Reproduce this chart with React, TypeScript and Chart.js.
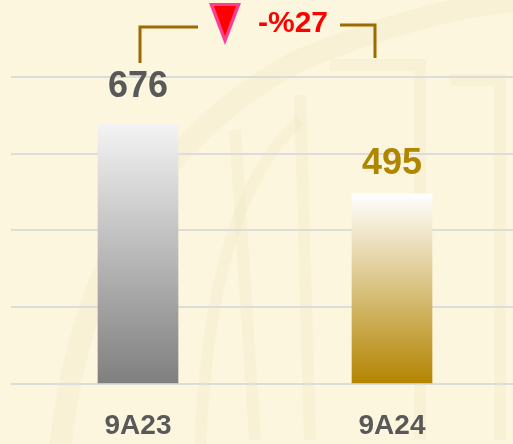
import React, { useEffect, useRef } from "react";
import { Chart, registerables } from "chart.js";

Chart.register(...registerables);

const categories = ["9A23", "9A24"];
const values = [676, 495];
const valueLabels = ["676", "495"];
const changeLabel = "-%27";
const yTicks = [0, 200, 400, 600, 800];

const FONT = "'Liberation Sans', Arial, sans-serif";

const bgPlugin = {
  id: "bg",
  beforeDraw(chart: any) {
    const { ctx, width, height } = chart;
    ctx.save();
    ctx.fillStyle = "#FCF6DF";
    ctx.fillRect(0, 0, width, height);
    // faint watermark
    ctx.strokeStyle = "rgba(205,185,120,0.08)";
    ctx.lineWidth = 22;
    ctx.beginPath();
    ctx.moveTo(60, 450);
    ctx.quadraticCurveTo(90, 170, 300, 60);
    ctx.quadraticCurveTo(420, 10, 520, 0);
    ctx.stroke();
    ctx.lineWidth = 12;
    ctx.beginPath();
    ctx.moveTo(200, 450);
    ctx.quadraticCurveTo(210, 200, 300, 120);
    ctx.stroke();
    ctx.beginPath();
    ctx.moveTo(235, 130);
    ctx.lineTo(255, 440);
    ctx.moveTo(300, 95);
    ctx.lineTo(310, 440);
    ctx.moveTo(330, 65);
    ctx.lineTo(420, 65);
    ctx.lineTo(420, 440);
    ctx.moveTo(450, 80);
    ctx.lineTo(500, 80);
    ctx.lineTo(500, 440);
    ctx.stroke();
    ctx.restore();
  },
};

const labelPlugin = {
  id: "labels",
  afterDatasetsDraw(chart: any) {
    const { ctx } = chart;
    const meta = chart.getDatasetMeta(0);
    const colors = ["#595959", "#B08500"];
    const offsets = [27, 20];
    ctx.save();
    ctx.font = `bold 36px ${FONT}`;
    ctx.textAlign = "center";
    ctx.textBaseline = "alphabetic";
    meta.data.forEach((bar: any, i: number) => {
      ctx.fillStyle = colors[i];
      ctx.fillText(valueLabels[i], bar.x, bar.y - offsets[i]);
    });

    const b0 = meta.data[0];
    const b1 = meta.data[1];
    // bracket
    ctx.strokeStyle = "#9C6A00";
    ctx.lineWidth = 3;
    ctx.lineCap = "butt";
    ctx.beginPath();
    ctx.moveTo(b0.x + 2, 63);
    ctx.lineTo(b0.x + 2, 27);
    ctx.lineTo(198, 27);
    ctx.stroke();
    ctx.beginPath();
    ctx.moveTo(340, 25);
    ctx.lineTo(b1.x - 17, 25);
    ctx.lineTo(b1.x - 17, 58);
    ctx.stroke();

    // triangle
    ctx.fillStyle = "#FF3D8E";
    ctx.beginPath();
    ctx.moveTo(209, 3);
    ctx.lineTo(241, 3);
    ctx.lineTo(225, 45);
    ctx.closePath();
    ctx.fill();
    ctx.fillStyle = "#FF0000";
    ctx.beginPath();
    ctx.moveTo(214, 6);
    ctx.lineTo(236, 6);
    ctx.lineTo(225, 36);
    ctx.closePath();
    ctx.fill();

    ctx.fillStyle = "#FF0000";
    ctx.font = `bold 30px ${FONT}`;
    ctx.textAlign = "left";
    ctx.fillText(changeLabel, 258, 32);
    ctx.restore();
  },
};

export default function App() {
  const ref = useRef<HTMLCanvasElement | null>(null);

  useEffect(() => {
    if (!ref.current) return;
    const gradStops = [
      ["#F3F3F3", "#7F7F7F"],
      ["#FFFFFF", "#B38400"],
    ];
    const chart = new Chart(ref.current, {
      type: "bar",
      data: {
        labels: categories,
        datasets: [
          {
            data: values,
            barThickness: 80,
            borderWidth: 0,
            backgroundColor: (c: any) => {
              const ch = c.chart;
              const area = ch.chartArea;
              if (!area) return "#999";
              const ys = ch.scales.y;
              const top = ys.getPixelForValue(values[c.dataIndex]);
              const bottom = ys.getPixelForValue(0);
              const g = ch.ctx.createLinearGradient(0, top, 0, bottom);
              const s = gradStops[c.dataIndex] || gradStops[0];
              g.addColorStop(0, s[0]);
              g.addColorStop(1, s[1]);
              return g;
            },
          },
        ],
      },
      options: {
        responsive: false,
        animation: false,
        devicePixelRatio: 1,
        layout: { padding: { left: 11, right: 0, top: 0, bottom: 0 } },
        plugins: {
          legend: { display: false },
          tooltip: { enabled: false },
        },
        scales: {
          x: {
            grid: { display: false, drawTicks: false },
            border: { display: false },
            ticks: {
              padding: 25,
              color: "#595959",
              font: { family: FONT, size: 28, weight: "bold" },
            },
            afterFit: (s: any) => {
              s.height = 60;
            },
          },
          y: {
            min: 0,
            max: 1000,
            afterBuildTicks: (s: any) => {
              s.ticks = yTicks.map((v) => ({ value: v }));
            },
            ticks: { display: false },
            border: { display: false },
            grid: { color: "#DCDCDA", lineWidth: 2, drawTicks: false },
            afterFit: (s: any) => {
              s.width = 0;
            },
          },
        },
      },
      plugins: [bgPlugin, labelPlugin],
    });
    return () => chart.destroy();
  }, []);

  return (
    <div
      style={{
        position: "fixed",
        left: 0,
        top: 0,
        width: 513,
        height: 444,
        overflow: "hidden",
        background: "#FCF6DF",
      }}
    >
      <canvas ref={ref} width={519} height={444} style={{ display: "block" }} />
    </div>
  );
}
